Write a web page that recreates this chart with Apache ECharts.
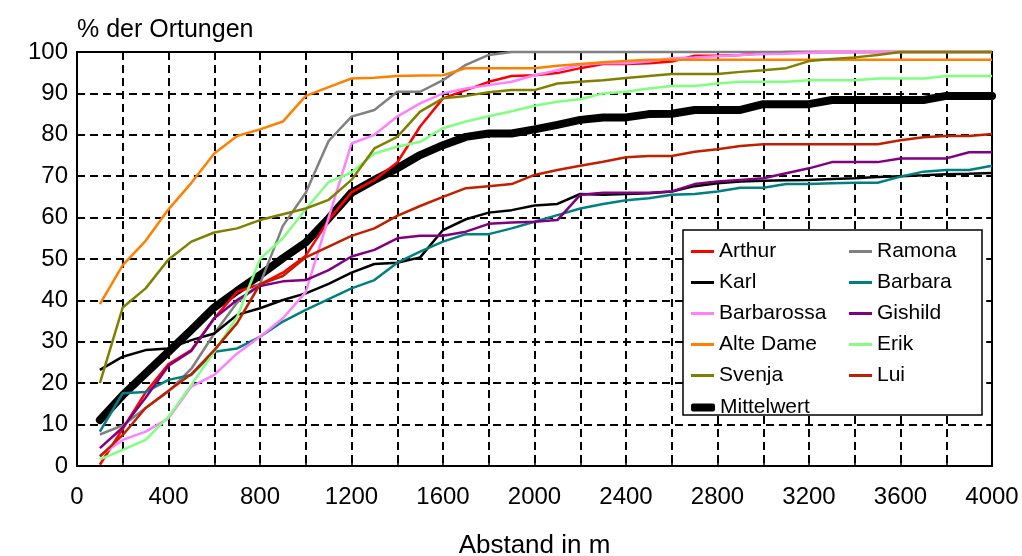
<!DOCTYPE html>
<html>
<head>
<meta charset="utf-8">
<script src="https://cdn.jsdelivr.net/npm/echarts@6/dist/echarts.min.js"></script>
<style>html,body{margin:0;padding:0;background:#fff;overflow:hidden;}#c{width:1022px;height:556px;}</style>
</head>
<body>
<div id="c"></div>
<script>
var distances = [100,200,300,400,500,600,700,800,900,1000,1100,1200,1300,1400,1500,1600,1700,1800,1900,2000,2100,2200,2300,2400,2500,2600,2700,2800,2900,3000,3100,3200,3300,3400,3500,3600,3700,3800,3900,4000];
var xTickLabels = ['0','400','800','1200','1600','2000','2400','2800','3200','3600','4000'];

var arthur     = [0.3,9,17.8,24.6,28,35.7,42.1,43.9,46.7,50.8,59.4,66.1,69.1,73.3,82,88.8,90.8,92.8,94.2,94.4,94.9,96.1,97.1,97.1,97.3,97.7,99.1,99.1,99.3,99.7,100,100,100,100,100,100,100,100,100,100];
var ramona     = [7.6,9.8,14,18,23.5,32,39.5,44,58,66,78.5,84.4,86,90.4,90.4,93.2,96.9,99.3,100,100,100,100,100,100,100,100,100,100,100,100,100,100,100,100,100,100,100,100,100,100];
var karl       = [23.2,26.4,28,28.4,30.4,32,36.5,38.1,40.1,41.7,44,46.7,48.8,49.1,50.4,57,59.6,61.2,61.8,62.9,63.3,65.7,65.5,65.7,65.9,66.3,67.6,68.3,68.7,68.9,69,69.1,69.3,69.5,69.8,70,70.2,70.5,70.6,70.8];
var barbara    = [8.3,17.6,17.9,20.8,22,27.6,28.4,31.2,34.9,37.7,40.3,42.9,44.9,49.1,51.8,54.2,56,56,57.4,59,60.6,62.2,63.3,64.2,64.7,65.5,65.7,66.3,67.2,67.2,68.1,68.1,68.3,68.4,68.4,69.9,71.1,71.5,71.5,72.5];
var barbarossa = [2.5,6.3,8.3,11.5,19.2,22,27.2,31.2,35.7,42,60,77.9,80,84.4,87.6,90,91.2,92,92.8,94.4,95.6,96.9,97.3,97.3,97.7,98.5,98.7,99,99.3,99.5,99.6,99.8,100,100,100,100,100,100,100,100];
var gishild    = [4.3,9.3,16.5,24.2,27.8,35.7,40.1,43.5,44.6,44.9,47.3,50.6,52.2,55,55.6,55.6,56.6,58.5,58.8,59,59.4,65.5,66,66,66,66.3,68.1,68.7,69.1,69.5,70.7,71.9,73.4,73.4,73.4,74.3,74.3,74.3,75.8,75.8];
var alteDame   = [39.1,48.5,54.4,62,68.4,75.5,79.7,81.3,83.2,89.4,91.5,93.6,93.8,94.2,94.3,94.4,96.1,96.1,96.1,96.1,96.7,97.1,97.5,97.8,98.1,98.1,98.1,98.1,98.1,98.1,98.1,98.1,98.1,98.1,98.1,98.1,98.1,98.1,98.1,98.1];
var erik       = [1.6,3.9,6.3,11.9,19.6,27.6,36,50,55,62,68.6,70.9,75.5,77.1,78.3,81.6,83.2,84.5,85.7,87,88,88.6,90,90.4,91.2,91.8,91.8,92.4,92.8,92.8,92.8,93.2,93.2,93.2,93.6,93.6,93.6,94.2,94.2,94.2];
var svenja     = [20,38.3,42.9,49.9,54.2,56.4,57.4,59.4,60.8,62.2,64.3,69.1,76.7,79.5,85.6,88.8,89.4,90.3,90.8,90.8,92.4,92.8,93.2,93.7,94.2,94.7,94.7,94.7,95.2,95.6,96.1,97.8,98.3,98.7,99.3,100,100,100,100,100];
var lui        = [2.3,7.5,14,18.2,22.2,28,34.5,43.9,45.9,50.4,53,55.6,57.4,60.4,62.8,65,67.1,67.6,68.1,70.3,71.5,72.5,73.5,74.6,74.9,74.9,75.9,76.5,77.3,77.7,77.7,77.7,77.7,77.7,77.7,78.7,79.4,79.7,79.7,80.2];
var mittelwert = [11.1,17.1,22.4,27.6,32.9,38.3,42.3,46.1,50.2,54,59.8,66,69.1,71.9,75.1,77.5,79.5,80.3,80.3,81.3,82.4,83.6,84.2,84.2,85,85.1,86,86,86,87.4,87.4,87.4,88.4,88.4,88.4,88.4,88.4,89.4,89.4,89.4];

var seriesDefs = [
  {name:'Arthur', data:arthur, color:'#ff0000'},
  {name:'Ramona', data:ramona, color:'#808080'},
  {name:'Karl', data:karl, color:'#000000'},
  {name:'Barbara', data:barbara, color:'#008080'},
  {name:'Barbarossa', data:barbarossa, color:'#ff80ff'},
  {name:'Gishild', data:gishild, color:'#800080'},
  {name:'Alte Dame', data:alteDame, color:'#ff8000'},
  {name:'Erik', data:erik, color:'#80ff80'},
  {name:'Svenja', data:svenja, color:'#808000'},
  {name:'Lui', data:lui, color:'#c02000'}
];

var FONT = 'Liberation Sans, Arial, sans-serif';
var series = [{
  name:'Mittelwert', type:'line', z:1, symbol:'none', clip:false,
  data: distances.map(function(d,i){return [d, mittelwert[i]];}),
  lineStyle:{color:'#000', width:8, cap:'round', join:'round'}, itemStyle:{color:'#000'}
}];
seriesDefs.forEach(function(s){
  series.push({
    name:s.name, type:'line', z:3, symbol:'none', clip:false,
    data: distances.map(function(d,i){return [d, s.data[i]];}),
    lineStyle:{color:s.color, width:2.5}, itemStyle:{color:s.color}
  });
});

var legendText = {fontFamily:FONT, fontSize:21, color:'#000', lineHeight:20};
var chart = echarts.init(document.getElementById('c'));
chart.setOption({
  animation:false,
  backgroundColor:'#fff',
  grid:{left:77, top:52, width:915, height:414, containLabel:false, outerBoundsMode:'none',
        show:true, borderColor:'#000', borderWidth:2, backgroundColor:'transparent'},
  xAxis:{
    type:'value', min:0, max:4000, interval:200,
    name:'Abstand in m', nameLocation:'middle', nameGap:67,
    nameTextStyle:{fontFamily:FONT, fontSize:26, color:'#000'},
    axisLine:{show:true, lineStyle:{color:'#000', width:2}},
    axisTick:{show:true, inside:true, length:6, lineStyle:{color:'#000', width:1.5}},
    axisLabel:{fontFamily:FONT, fontSize:24, color:'#000', margin:19, hideOverlap:false,
      formatter:function(v){var s=String(v);return xTickLabels.indexOf(s)>=0?s:'';}},
    splitLine:{show:true, lineStyle:{color:'#000', width:2, type:[8,5]}}
  },
  yAxis:[{
    type:'value', min:0, max:100, interval:10,
    name:'% der Ortungen', nameLocation:'end', nameGap:9,
    nameTextStyle:{fontFamily:FONT, fontSize:25, color:'#000', align:'left'},
    axisLine:{show:true, lineStyle:{color:'#000', width:2}},
    axisTick:{show:true, inside:true, length:6, lineStyle:{color:'#000', width:1.5}},
    axisLabel:{fontFamily:FONT, fontSize:24, color:'#000', margin:9},
    splitLine:{show:true, lineStyle:{color:'#000', width:2, type:[8,5]}}
  },{
    type:'value', min:0, max:100, interval:10, position:'right',
    axisLine:{show:true, lineStyle:{color:'#000', width:2}},
    axisTick:{show:true, inside:true, length:6, lineStyle:{color:'#000', width:1.5}},
    axisLabel:{show:false}, splitLine:{show:false}
  }],
  graphic:[{
    type:'rect', z:5, shape:{x:683, y:230, width:299, height:185},
    style:{fill:'#fff', stroke:'#000', lineWidth:1.5}
  }],
  legend:[{
    orient:'vertical', left:686, top:236, itemWidth:23, itemHeight:3, itemGap:10, z:6,
    icon:'rect', textStyle:legendText,
    data:['Arthur','Karl','Barbarossa','Alte Dame','Svenja']
  },{
    orient:'vertical', left:844, top:236, itemWidth:23, itemHeight:3, itemGap:10, z:6,
    icon:'rect', textStyle:legendText,
    data:['Ramona','Barbara','Gishild','Erik','Lui']
  },{
    orient:'vertical', left:686, top:392, itemWidth:24, itemHeight:8, z:6,
    icon:'roundRect', textStyle:legendText,
    data:['Mittelwert']
  }],
  series:series
});
</script>
</body>
</html>
